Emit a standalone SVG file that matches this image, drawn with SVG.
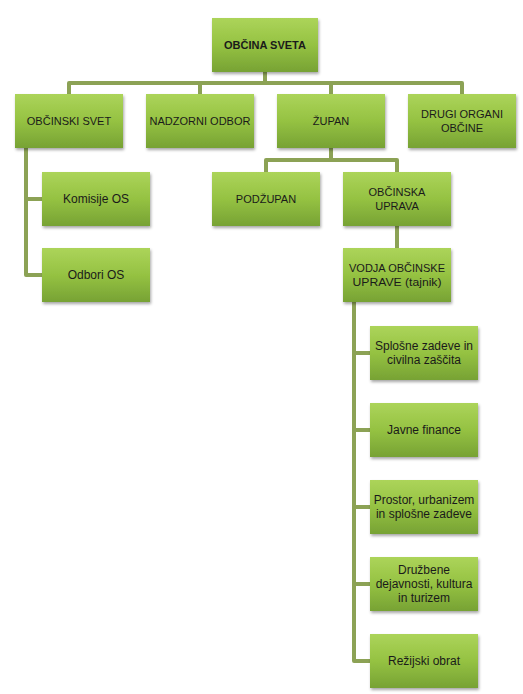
<svg xmlns="http://www.w3.org/2000/svg" width="523" height="694" viewBox="0 0 523 694">
<style>
.box{fill:url(#g);filter:url(#sh)}
.t{font-family:"Liberation Sans",Arial,sans-serif;font-size:11px;fill:#1a1a1a;text-anchor:middle}
.m{font-size:12px}
.b{font-weight:bold}
.c{fill:none;stroke:#8ca255;stroke-width:4;stroke-linejoin:round}
</style>
<defs>
<linearGradient id="g" x1="0" y1="0" x2="0" y2="1">
<stop offset="0" stop-color="#acd45a"/>
<stop offset="0.5" stop-color="#95c242"/>
<stop offset="1" stop-color="#77a234"/>
</linearGradient>
<filter id="sh" x="-10%" y="-10%" width="125%" height="130%">
<feDropShadow dx="1" dy="2" stdDeviation="1.5" flood-color="#000" flood-opacity="0.35"/>
</filter>
</defs>
<rect width="523" height="694" fill="#fff"/>
<g id="connectors">
<path class="c" d="M265 72V83M69 94V83H462V94M200 83V94M331 83V94"/>
<path class="c" d="M26 148V275H42M26 199H42"/>
<path class="c" d="M331 148V160M266 172V160H397V172"/>
<path class="c" d="M397 226V248"/>
<path class="c" d="M354 302V661H370M354 353H370M354 430H370M354 507H370M354 584H370"/>
</g>
<g id="obcina-sveta"><rect class="box" x="212" y="18" width="106" height="54"/><text class="t b" x="265" y="49">OBČINA SVETA</text></g>
<g id="obcinski-svet"><rect class="box" x="15" y="94" width="108" height="54"/><text class="t" x="69" y="125">OBČINSKI SVET</text></g>
<g id="nadzorni-odbor"><rect class="box" x="146" y="94" width="108" height="54"/><text class="t" x="200" y="125">NADZORNI ODBOR</text></g>
<g id="zupan"><rect class="box" x="277" y="94" width="108" height="54"/><text class="t" x="331" y="125">ŽUPAN</text></g>
<g id="drugi-organi"><rect class="box" x="408" y="94" width="108" height="54"/><text class="t" x="462" y="118">DRUGI ORGANI</text><text class="t" x="462" y="132">OBČINE</text></g>
<g id="komisije-os"><rect class="box" x="42" y="172" width="108" height="54"/><text class="t m" x="96" y="203">Komisije OS</text></g>
<g id="odbori-os"><rect class="box" x="42" y="248" width="108" height="54"/><text class="t m" x="96" y="279">Odbori OS</text></g>
<g id="podzupan"><rect class="box" x="212" y="172" width="108" height="54"/><text class="t" x="266" y="203">PODŽUPAN</text></g>
<g id="obcinska-uprava"><rect class="box" x="343" y="172" width="108" height="54"/><text class="t" x="397" y="196">OBČINSKA</text><text class="t" x="397" y="210">UPRAVA</text></g>
<g id="vodja"><rect class="box" x="343" y="248" width="108" height="54"/><text class="t" x="397" y="272" textLength="96" lengthAdjust="spacingAndGlyphs">VODJA OBČINSKE</text><text class="t" x="397" y="286" textLength="89" lengthAdjust="spacingAndGlyphs">UPRAVE (tajnik)</text></g>
<g id="splosne-zadeve"><rect class="box" x="370" y="326" width="108" height="54"/><text class="t m" x="424" y="350">Splošne zadeve in</text><text class="t m" x="424" y="364">civilna zaščita</text></g>
<g id="javne-finance"><rect class="box" x="370" y="403" width="108" height="54"/><text class="t m" x="424" y="434">Javne finance</text></g>
<g id="prostor"><rect class="box" x="370" y="480" width="108" height="54"/><text class="t m" x="424" y="504">Prostor, urbanizem</text><text class="t m" x="424" y="518">in splošne zadeve</text></g>
<g id="druzbene"><rect class="box" x="370" y="557" width="108" height="54"/><text class="t m" x="424" y="574">Družbene</text><text class="t m" x="424" y="588">dejavnosti, kultura</text><text class="t m" x="424" y="602">in turizem</text></g>
<g id="rezijski-obrat"><rect class="box" x="370" y="634" width="108" height="54"/><text class="t m" x="424" y="665">Režijski obrat</text></g>
</svg>
